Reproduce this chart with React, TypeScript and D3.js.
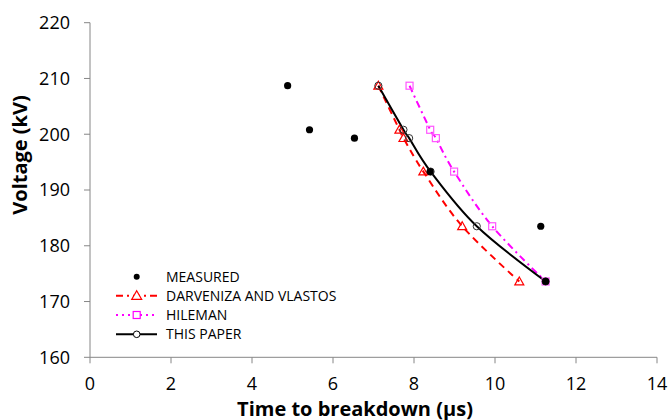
import React from "react";
import * as d3 from "d3";

const voltage = [208.7, 200.8, 199.3, 193.3, 183.5, 173.6];
const measuredTime = [4.88, 5.42, 6.53, 8.4, 11.13, 11.25];
const darvenizaTime = [7.12, 7.64, 7.74, 8.23, 9.19, 10.6];
const hilemanTime = [7.89, 8.4, 8.54, 8.99, 9.93, 11.25];
const thisPaperTime = [7.12, 7.74, 7.88, 8.41, 9.55, 11.25];

const xTicks = [0, 2, 4, 6, 8, 10, 12, 14];
const yTicks = [160, 170, 180, 190, 200, 210, 220];

const legendLabels = ["MEASURED", "DARVENIZA AND VLASTOS", "HILEMAN", "THIS PAPER"];

const W = 670;
const H = 420;
const FONT = "'Open Sans', 'DejaVu Sans', sans-serif";

export default function App() {
  const x = d3.scaleLinear().domain([0, 14]).range([90, 657]);
  const y = d3.scaleLinear().domain([160, 220]).range([357.3, 22.7]);

  const line = d3
    .line<[number, number]>()
    .x((d) => x(d[0]))
    .y((d) => y(d[1]))
    .curve(d3.curveCatmullRom.alpha(0));

  const pts = (t: number[]) => t.map((v, i) => [v, voltage[i]] as [number, number]);

  const tri = (cx: number, cy: number, s = 4.5) =>
    `M${cx},${cy - s}L${cx + s},${cy + s * 0.75}L${cx - s},${cy + s * 0.75}Z`;

  const legendY = [276.7, 295.7, 315, 334.3];
  const lx0 = 116;
  const lx1 = 157;
  const lmx = 136.7;

  return (
    <svg
      width={W}
      height={H}
      style={{ position: "fixed", left: 0, top: 0, background: "#fff" }}
      fontFamily={FONT}
    >
      <rect width={W} height={H} fill="#fff" />
      {/* axes */}
      <line x1={x(0)} x2={x(0)} y1={y(220)} y2={y(160)} stroke="#868686" strokeWidth={1} />
      <line x1={x(0)} x2={x(14)} y1={y(160)} y2={y(160)} stroke="#868686" strokeWidth={1} />
      {yTicks.map((t) => (
        <g key={"y" + t}>
          <line x1={x(0) - 6} x2={x(0)} y1={y(t)} y2={y(t)} stroke="#868686" />
          <text x={70} y={y(t)} dy="0.35em" textAnchor="end" fontSize={18} fill="#000">
            {t}
          </text>
        </g>
      ))}
      {xTicks.map((t) => (
        <g key={"x" + t}>
          <line x1={x(t)} x2={x(t)} y1={y(160)} y2={y(160) + 6} stroke="#868686" />
          <text x={x(t)} y={389.5} textAnchor="middle" fontSize={18} fill="#000">
            {t}
          </text>
        </g>
      ))}
      <text x={355} y={415.5} textAnchor="middle" fontSize={20} fontWeight="bold" fill="#000">
        Time to breakdown (µs)
      </text>
      <text
        transform={`translate(27,155) rotate(-90)`}
        textAnchor="middle"
        fontSize={20}
        fontWeight="bold"
        fill="#000"
      >
        Voltage (kV)
      </text>

      {/* series lines */}
      <path d={line(pts(darvenizaTime)) || ""} fill="none" stroke="#ff0000" strokeWidth={2} strokeDasharray="7,5" />
      <path d={line(pts(hilemanTime)) || ""} fill="none" stroke="#ff00ff" strokeWidth={2} strokeDasharray="7,4,2,4" />
      <path d={line(pts(thisPaperTime)) || ""} fill="none" stroke="#000" strokeWidth={2} />

      {/* markers */}
      {pts(darvenizaTime).map((d, i) => (
        <path key={"dt" + i} d={tri(x(d[0]), y(d[1]))} fill="none" stroke="#ff0000" strokeWidth={1.2} />
      ))}
      {pts(hilemanTime).map((d, i) => (
        <rect
          key={"hs" + i}
          x={x(d[0]) - 3.5}
          y={y(d[1]) - 3.5}
          width={7}
          height={7}
          fill="none"
          stroke="#ff55ff"
          strokeWidth={1.2}
        />
      ))}
      {pts(thisPaperTime).map((d, i) => (
        <circle key={"tp" + i} cx={x(d[0])} cy={y(d[1])} r={3.6} fill="none" stroke="#333" strokeWidth={1} />
      ))}
      {pts(measuredTime).map((d, i) => (
        <circle key={"m" + i} cx={x(d[0])} cy={y(d[1])} r={3.6} fill="#000" />
      ))}

      {/* legend */}
      <circle cx={lmx} cy={legendY[0]} r={3} fill="#000" />
      <line x1={lx0} x2={lx1} y1={legendY[1]} y2={legendY[1]} stroke="#ff0000" strokeWidth={2} strokeDasharray="7,4,2,4" />
      <path d={tri(lmx, legendY[1], 5)} fill="#fff" stroke="#ff0000" strokeWidth={1.2} />
      <line x1={lx0} x2={lx1} y1={legendY[2]} y2={legendY[2]} stroke="#ff00ff" strokeWidth={2} strokeDasharray="2,4" />
      <rect x={lmx - 3.5} y={legendY[2] - 3.5} width={7} height={7} fill="#fff" stroke="#ff00ff" strokeWidth={1.2} />
      <line x1={lx0} x2={lx1} y1={legendY[3]} y2={legendY[3]} stroke="#000" strokeWidth={2} />
      <circle cx={lmx} cy={legendY[3]} r={3.3} fill="#fff" stroke="#000" strokeWidth={1} />
      {legendLabels.map((l, i) => (
        <text key={l} x={166} y={legendY[i]} dy="0.36em" fontSize={14} fill="#000">
          {l}
        </text>
      ))}
    </svg>
  );
}
